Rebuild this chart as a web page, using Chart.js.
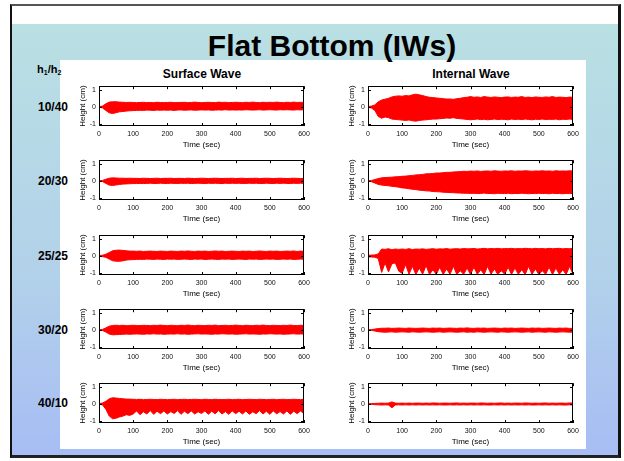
<!DOCTYPE html>
<html>
<head>
<meta charset="utf-8">
<script src="https://cdn.jsdelivr.net/npm/chart.js@4.4.0/dist/chart.umd.min.js"></script>
<style>
body { margin: 0; width: 624px; height: 461px; overflow: hidden; background: #fff; position: relative;
       font-family: "Liberation Sans", Arial, sans-serif; }
#frame { position: absolute; left: 10px; top: 4px; width: 606px; height: 449px;
         border-left: 2px solid #111; border-top: 2px solid #555; border-right: 3px solid #111; border-bottom: 3px solid #222;
         background: linear-gradient(to bottom, #fff 0, #fff 18px, #b9e0e3 18px, #b2d1ea 60%, #a7bdf4 100%); }
#panel { position: absolute; left: 60px; top: 60px; width: 526px; height: 389px; background: #fff; }
.lbl { position: absolute; font-weight: bold; color: #000; white-space: nowrap; }
#title { left: 332px; top: 31px; font-size: 30px; line-height: 30px; transform: translateX(-50%); }
.col { top: 67px; font-size: 12px; line-height: 14px; transform: translateX(-50%); }
.row { right: 556px; font-size: 12px; line-height: 14px; }
#h12 { left: 37px; top: 62px; font-size: 11px; line-height: 14px; }
#h12 sub { font-size: 7px; vertical-align: -2px; }
canvas { position: absolute; }
</style>
</head>
<body>
<div id="frame"></div>
<div id="panel"></div>
<div class="lbl" id="title">Flat Bottom (IWs)</div>
<div class="lbl" id="h12">h<sub>1</sub>/h<sub>2</sub></div>
<div class="lbl col" style="left:202px">Surface Wave</div>
<div class="lbl col" style="left:471px">Internal Wave</div>
<div class="lbl row" style="top:100px">10/40</div>
<div class="lbl row" style="top:174px">20/30</div>
<div class="lbl row" style="top:249px">25/25</div>
<div class="lbl row" style="top:323px">30/20</div>
<div class="lbl row" style="top:396px">40/10</div>

<canvas id="s1040" width="247" height="73" style="left:67px;top:79px"></canvas>
<canvas id="i1040" width="247" height="73" style="left:336px;top:79px"></canvas>
<canvas id="s2030" width="247" height="73" style="left:67px;top:153px"></canvas>
<canvas id="i2030" width="247" height="73" style="left:336px;top:153px"></canvas>
<canvas id="s2525" width="247" height="73" style="left:67px;top:228px"></canvas>
<canvas id="i2525" width="247" height="73" style="left:336px;top:228px"></canvas>
<canvas id="s3020" width="247" height="73" style="left:67px;top:302px"></canvas>
<canvas id="i3020" width="247" height="73" style="left:336px;top:302px"></canvas>
<canvas id="s4010" width="247" height="73" style="left:67px;top:376px"></canvas>
<canvas id="i4010" width="247" height="73" style="left:336px;top:376px"></canvas>

<script>
// time axis (sec) and tick labels
const times = [0,10,20,30,40,50,60,70,80,90,100,110,120,130,140,150,160,170,180,190,200,
  210,220,230,240,250,260,270,280,290,300,310,320,330,340,350,360,370,380,390,400,
  410,420,430,440,450,460,470,480,490,500,510,520,530,540,550,560,570,580,590,600];
const xTicks = [0, 100, 200, 300, 400, 500, 600];
const yTicks = [-1, 0, 1];

// upper / lower envelopes of the height records (cm)
const s1040Up = [0.02,0.05,0.18,0.28,0.30,0.30,0.28,0.27,0.26,0.27,0.26,
  0.25,0.26,0.27,0.25,0.26,0.25,0.27,0.26,0.25,0.26, 0.27,0.25,0.26,0.26,0.27,0.25,0.26,0.28,0.26,0.25,
  0.26,0.27,0.26,0.25,0.28,0.26,0.27,0.25,0.26,0.27, 0.26,0.25,0.27,0.26,0.28,0.26,0.25,0.27,0.26,0.27,
  0.26,0.28,0.26,0.25,0.27,0.26,0.28,0.26,0.27,0.26];
const s1040Lo = [-0.02,-0.05,-0.20,-0.34,-0.38,-0.33,-0.28,-0.26,-0.24,-0.22,-0.21,
  -0.20,-0.19,-0.20,-0.18,-0.19,-0.20,-0.18,-0.19,-0.18,-0.19, -0.18,-0.20,-0.18,-0.17,-0.19,-0.18,-0.17,-0.19,-0.18,-0.17,
  -0.18,-0.17,-0.19,-0.18,-0.17,-0.18,-0.16,-0.18,-0.17,-0.18, -0.17,-0.18,-0.16,-0.17,-0.18,-0.17,-0.16,-0.18,-0.17,-0.16,
  -0.17,-0.18,-0.16,-0.17,-0.16,-0.17,-0.18,-0.16,-0.17,-0.16];
const i1040Up = [0.02,0.05,0.12,0.30,0.40,0.45,0.50,0.58,0.62,0.64,0.62,
  0.66,0.64,0.70,0.74,0.70,0.66,0.60,0.56,0.54,0.52, 0.50,0.48,0.46,0.46,0.44,0.48,0.50,0.54,0.56,0.60,
  0.56,0.58,0.55,0.60,0.57,0.55,0.58,0.56,0.54,0.57, 0.58,0.55,0.57,0.56,0.60,0.55,0.57,0.54,0.58,0.56,
  0.55,0.58,0.56,0.60,0.55,0.57,0.56,0.54,0.57,0.56];
const i1040Lo = [-0.02,-0.06,-0.20,-0.55,-0.65,-0.58,-0.62,-0.70,-0.72,-0.74,-0.76,
  -0.78,-0.75,-0.80,-0.82,-0.78,-0.76,-0.74,-0.72,-0.70,-0.70, -0.68,-0.66,-0.64,-0.65,-0.62,-0.66,-0.68,-0.70,-0.72,-0.74,
  -0.72,-0.70,-0.73,-0.71,-0.74,-0.72,-0.70,-0.73,-0.71,-0.72, -0.74,-0.70,-0.72,-0.71,-0.73,-0.70,-0.72,-0.74,-0.71,-0.72,
  -0.70,-0.73,-0.71,-0.72,-0.70,-0.74,-0.71,-0.72,-0.70,-0.72];
const s2030Up = [0.01,0.03,0.10,0.16,0.18,0.17,0.16,0.16,0.15,0.16,0.15,
  0.15,0.14,0.16,0.15,0.14,0.15,0.16,0.14,0.15,0.15, 0.16,0.14,0.15,0.15,0.14,0.16,0.15,0.14,0.15,0.16,
  0.15,0.14,0.15,0.16,0.15,0.14,0.15,0.15,0.16,0.14, 0.15,0.16,0.14,0.15,0.15,0.16,0.14,0.15,0.16,0.15,
  0.14,0.15,0.16,0.15,0.14,0.15,0.16,0.15,0.14,0.15];
const s2030Lo = [-0.01,-0.03,-0.14,-0.24,-0.26,-0.23,-0.20,-0.18,-0.17,-0.16,-0.15,
  -0.15,-0.14,-0.15,-0.14,-0.13,-0.15,-0.14,-0.13,-0.14,-0.15, -0.13,-0.14,-0.15,-0.13,-0.14,-0.13,-0.15,-0.14,-0.13,-0.14,
  -0.15,-0.13,-0.14,-0.13,-0.14,-0.15,-0.13,-0.14,-0.13,-0.14, -0.13,-0.15,-0.14,-0.13,-0.14,-0.13,-0.15,-0.14,-0.13,-0.14,
  -0.15,-0.13,-0.14,-0.13,-0.14,-0.15,-0.13,-0.14,-0.13,-0.14];
const i2030Up = [0.01,0.03,0.08,0.14,0.18,0.20,0.21,0.22,0.24,0.25,0.27,
  0.28,0.30,0.32,0.35,0.36,0.38,0.41,0.42,0.43,0.46, 0.46,0.48,0.50,0.50,0.52,0.53,0.54,0.56,0.55,0.57,
  0.56,0.58,0.55,0.57,0.58,0.56,0.59,0.57,0.56,0.58, 0.57,0.59,0.56,0.58,0.57,0.59,0.58,0.56,0.58,0.57,
  0.59,0.57,0.58,0.56,0.59,0.57,0.58,0.57,0.59,0.58];
const i2030Lo = [-0.01,-0.04,-0.12,-0.20,-0.24,-0.26,-0.28,-0.31,-0.33,-0.36,-0.40,
  -0.42,-0.45,-0.48,-0.50,-0.53,-0.55,-0.57,-0.58,-0.61,-0.62, -0.63,-0.65,-0.66,-0.67,-0.68,-0.69,-0.70,-0.71,-0.71,-0.72,
  -0.71,-0.73,-0.72,-0.70,-0.73,-0.72,-0.74,-0.71,-0.72,-0.73, -0.71,-0.74,-0.72,-0.73,-0.71,-0.72,-0.74,-0.72,-0.73,-0.71,
  -0.73,-0.72,-0.74,-0.71,-0.73,-0.72,-0.74,-0.72,-0.73,-0.72];
const s2525Up = [0.02,0.04,0.10,0.20,0.30,0.33,0.34,0.32,0.30,0.28,0.28,
  0.27,0.28,0.26,0.27,0.28,0.27,0.26,0.28,0.27,0.26, 0.28,0.27,0.26,0.28,0.27,0.29,0.27,0.26,0.28,0.27,
  0.28,0.26,0.27,0.29,0.27,0.28,0.26,0.27,0.28,0.27, 0.26,0.28,0.27,0.28,0.26,0.27,0.29,0.27,0.26,0.28,
  0.27,0.28,0.26,0.27,0.28,0.27,0.29,0.26,0.28,0.27];
const s2525Lo = [-0.02,-0.04,-0.08,-0.18,-0.28,-0.30,-0.31,-0.28,-0.24,-0.22,-0.21,
  -0.20,-0.19,-0.20,-0.18,-0.19,-0.20,-0.18,-0.19,-0.20,-0.18, -0.19,-0.18,-0.20,-0.19,-0.18,-0.19,-0.20,-0.18,-0.19,-0.18,
  -0.20,-0.19,-0.18,-0.19,-0.20,-0.18,-0.19,-0.18,-0.20,-0.19, -0.18,-0.19,-0.20,-0.18,-0.19,-0.18,-0.20,-0.19,-0.18,-0.19,
  -0.18,-0.20,-0.19,-0.18,-0.19,-0.18,-0.20,-0.19,-0.18,-0.19];
const i2525Up = [0.04,0.05,0.06,0.12,0.40,0.38,0.42,0.36,0.40,0.38,0.40,
  0.38,0.42,0.37,0.40,0.39,0.41,0.38,0.40,0.42,0.39, 0.41,0.40,0.43,0.39,0.41,0.42,0.40,0.43,0.41,0.42,
  0.43,0.40,0.42,0.44,0.41,0.43,0.42,0.44,0.41,0.43, 0.42,0.44,0.41,0.43,0.42,0.44,0.43,0.41,0.44,0.42,
  0.43,0.41,0.44,0.42,0.43,0.44,0.41,0.43,0.42,0.44];
const i2525Lo = [-0.05,-0.06,-0.07,-0.15,-0.95,-0.40,-0.92,-0.45,-0.40,-0.88,-1.00,
  -0.50,-1.05,-0.60,-1.07,-0.70,-1.05,-0.55,-1.07,-0.80,-1.06, -0.65,-1.07,-0.75,-1.06,-0.60,-1.07,-0.85,-1.06,-0.70,-1.07,
  -0.65,-1.06,-0.80,-1.07,-0.60,-1.06,-0.75,-1.07,-0.85,-1.06, -0.65,-1.07,-0.70,-1.06,-0.80,-1.07,-0.60,-1.06,-0.75,-1.07,
  -0.85,-1.06,-0.65,-1.07,-0.70,-1.06,-0.80,-1.07,-0.60,-1.06];
const s3020Up = [0.01,0.03,0.12,0.22,0.26,0.27,0.26,0.27,0.25,0.26,0.27,
  0.26,0.25,0.27,0.26,0.25,0.27,0.26,0.28,0.26,0.25, 0.27,0.26,0.25,0.27,0.26,0.28,0.26,0.25,0.27,0.26,
  0.25,0.27,0.26,0.28,0.25,0.26,0.27,0.25,0.26,0.28, 0.26,0.25,0.27,0.26,0.25,0.27,0.26,0.28,0.26,0.25,
  0.27,0.26,0.25,0.27,0.26,0.28,0.26,0.25,0.27,0.26];
const s3020Lo = [-0.01,-0.03,-0.12,-0.24,-0.28,-0.27,-0.26,-0.25,-0.24,-0.25,-0.24,
  -0.23,-0.24,-0.25,-0.23,-0.24,-0.22,-0.24,-0.23,-0.25,-0.24, -0.23,-0.24,-0.22,-0.24,-0.23,-0.25,-0.24,-0.23,-0.22,-0.24,
  -0.23,-0.24,-0.25,-0.23,-0.24,-0.22,-0.23,-0.24,-0.23,-0.25, -0.24,-0.23,-0.22,-0.24,-0.23,-0.24,-0.25,-0.23,-0.24,-0.22,
  -0.23,-0.24,-0.23,-0.25,-0.24,-0.23,-0.22,-0.24,-0.23,-0.24];
const i3020Up = [0.01,0.02,0.05,0.08,0.10,0.10,0.11,0.09,0.10,0.11,0.10,
  0.09,0.11,0.10,0.09,0.10,0.11,0.10,0.09,0.11,0.10, 0.11,0.09,0.10,0.11,0.10,0.09,0.11,0.10,0.12,0.10,
  0.09,0.11,0.10,0.11,0.09,0.10,0.11,0.10,0.09,0.11, 0.10,0.11,0.09,0.10,0.11,0.10,0.09,0.11,0.10,0.11,
  0.09,0.10,0.11,0.10,0.09,0.11,0.10,0.11,0.09,0.10];
const i3020Lo = [-0.01,-0.02,-0.06,-0.10,-0.12,-0.13,-0.12,-0.11,-0.13,-0.12,-0.11,
  -0.12,-0.13,-0.11,-0.12,-0.13,-0.12,-0.11,-0.12,-0.13,-0.12, -0.11,-0.13,-0.12,-0.11,-0.12,-0.13,-0.12,-0.11,-0.13,-0.12,
  -0.13,-0.11,-0.12,-0.13,-0.12,-0.11,-0.12,-0.13,-0.11,-0.12, -0.13,-0.12,-0.11,-0.12,-0.13,-0.12,-0.11,-0.13,-0.12,-0.11,
  -0.12,-0.13,-0.11,-0.12,-0.13,-0.12,-0.11,-0.12,-0.13,-0.12];
const s4010Up = [0.02,0.05,0.15,0.30,0.36,0.34,0.32,0.30,0.28,0.28,0.27,
  0.26,0.27,0.25,0.26,0.27,0.26,0.25,0.27,0.26,0.25, 0.26,0.27,0.25,0.26,0.27,0.25,0.26,0.27,0.26,0.25,
  0.27,0.26,0.25,0.27,0.26,0.25,0.26,0.27,0.25,0.26, 0.27,0.25,0.26,0.27,0.26,0.25,0.27,0.26,0.25,0.26,
  0.27,0.25,0.26,0.27,0.25,0.26,0.27,0.26,0.25,0.27];
const s4010Lo = [-0.02,-0.05,-0.30,-0.70,-0.86,-0.82,-0.75,-0.70,-0.62,-0.66,-0.58,
  -0.40,-0.62,-0.45,-0.58,-0.38,-0.60,-0.42,-0.56,-0.40,-0.58, -0.44,-0.55,-0.38,-0.60,-0.42,-0.56,-0.40,-0.58,-0.45,-0.55,
  -0.40,-0.60,-0.42,-0.57,-0.38,-0.58,-0.44,-0.60,-0.40,-0.56, -0.42,-0.58,-0.40,-0.60,-0.45,-0.56,-0.38,-0.58,-0.42,-0.60,
  -0.40,-0.57,-0.44,-0.58,-0.40,-0.60,-0.42,-0.56,-0.40,-0.58];
const i4010Up = [0.01,0.02,0.03,0.04,0.05,0.04,0.05,0.12,0.05,0.04,0.05,
  0.04,0.05,0.04,0.05,0.05,0.04,0.05,0.04,0.06,0.05, 0.04,0.05,0.05,0.04,0.05,0.06,0.04,0.05,0.04,0.05,
  0.05,0.04,0.06,0.05,0.04,0.05,0.04,0.05,0.06,0.04, 0.05,0.04,0.05,0.05,0.04,0.06,0.05,0.04,0.05,0.04,
  0.05,0.06,0.04,0.05,0.04,0.05,0.05,0.04,0.06,0.05];
const i4010Lo = [-0.01,-0.02,-0.04,-0.05,-0.06,-0.05,-0.06,-0.22,-0.06,-0.05,-0.06,
  -0.05,-0.06,-0.05,-0.06,-0.05,-0.06,-0.05,-0.06,-0.05,-0.06, -0.05,-0.06,-0.06,-0.05,-0.06,-0.05,-0.06,-0.05,-0.06,-0.05,
  -0.06,-0.05,-0.06,-0.05,-0.06,-0.06,-0.05,-0.06,-0.05,-0.06, -0.05,-0.06,-0.05,-0.06,-0.05,-0.06,-0.05,-0.06,-0.06,-0.05,
  -0.06,-0.05,-0.06,-0.05,-0.06,-0.05,-0.06,-0.06,-0.05,-0.06];

const panels = [
  ['s1040', s1040Up, s1040Lo], ['i1040', i1040Up, i1040Lo],
  ['s2030', s2030Up, s2030Lo], ['i2030', i2030Up, i2030Lo],
  ['s2525', s2525Up, s2525Lo], ['i2525', i2525Up, i2525Lo],
  ['s3020', s3020Up, s3020Lo], ['i3020', i3020Up, i3020Lo],
  ['s4010', s4010Up, s4010Lo], ['i4010', i4010Up, i4010Lo]
];

// box round the plot area with inward tick marks (matlab look)
const frameTicks = {
  id: 'frameTicks',
  afterDraw(chart) {
    const { ctx, chartArea: a, scales: { x, y } } = chart;
    ctx.save();
    ctx.strokeStyle = '#000';
    ctx.lineWidth = 1;
    ctx.beginPath();
    xTicks.forEach(v => {
      const px = Math.round(x.getPixelForValue(v)) + 0.5;
      ctx.moveTo(px, a.bottom); ctx.lineTo(px, a.bottom - 3);
      ctx.moveTo(px, a.top); ctx.lineTo(px, a.top + 3);
    });
    yTicks.forEach(v => {
      const py = Math.round(y.getPixelForValue(v)) + 0.5;
      ctx.moveTo(a.left, py); ctx.lineTo(a.left + 3, py);
      ctx.moveTo(a.right, py); ctx.lineTo(a.right - 3, py);
    });
    ctx.stroke();
    ctx.strokeRect(Math.round(a.left) + 0.5, Math.round(a.top) + 0.5,
                   Math.round(a.right - a.left) - 1, Math.round(a.bottom - a.top) - 1);
    ctx.restore();
  }
};

const tickFont = { family: '"Liberation Sans", Arial, sans-serif', size: 7 };
const titleFont = { family: '"Liberation Sans", Arial, sans-serif', size: 8 };

panels.forEach(([id, up, lo]) => {
  new Chart(document.getElementById(id), {
    type: 'line',
    data: {
      datasets: [{
        data: times.map((t, i) => ({ x: t, y: up[i] })),
        borderColor: '#ff0000',
        backgroundColor: '#ff0000',
        borderWidth: 1,
        pointRadius: 0,
        fill: '+1'
      }, {
        data: times.map((t, i) => ({ x: t, y: lo[i] })),
        borderColor: '#ff0000',
        borderWidth: 1,
        pointRadius: 0,
        fill: false
      }]
    },
    options: {
      responsive: false,
      animation: false,
      events: [],
      layout: { padding: { top: 6, right: 10, left: 0, bottom: 0 } },
      plugins: { legend: { display: false }, tooltip: { enabled: false } },
      scales: {
        x: {
          type: 'linear', min: 0, max: 600,
          grid: { display: false, drawTicks: false },
          border: { display: false },
          afterBuildTicks: s => { s.ticks = xTicks.map(v => ({ value: v })); },
          afterFit: s => { s.height = 26; },
          ticks: { font: tickFont, color: '#111', padding: 4, maxRotation: 0, autoSkip: false },
          title: { display: true, text: 'Time (sec)', font: titleFont, color: '#000', padding: 2 }
        },
        y: {
          min: -1.1, max: 1.2,
          grid: { display: false, drawTicks: false },
          border: { display: false },
          afterBuildTicks: s => { s.ticks = yTicks.map(v => ({ value: v })); },
          afterFit: s => { s.width = 32; },
          ticks: { font: tickFont, color: '#111', padding: 3 },
          title: { display: true, text: 'Height (cm)', font: titleFont, color: '#000', padding: { top: 11, bottom: 0 } }
        }
      }
    },
    plugins: [frameTicks]
  });
});
</script>
</body>
</html>
